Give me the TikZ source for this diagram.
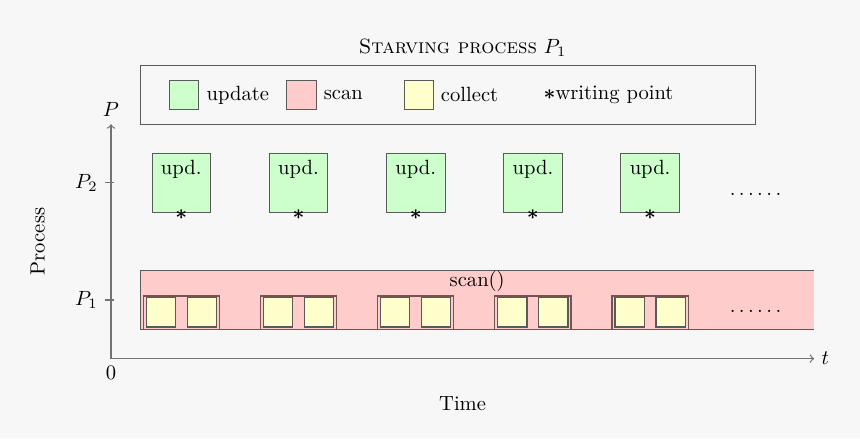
\documentclass[tikz,border=0pt]{standalone}
\usepackage{amsmath}
\usepackage{amssymb}
\usepackage{tikz}
\usetikzlibrary{arrows}
\usetikzlibrary{positioning}
\definecolor{bg}{RGB}{247, 247, 247}
\definecolor{updgreen}{RGB}{204, 255, 204}
\definecolor{scanred}{RGB}{255, 204, 204}
\definecolor{colyellow}{RGB}{255, 255, 204}
\definecolor{edge}{RGB}{90, 90, 90}
\definecolor{grpedge}{RGB}{115, 85, 85}

\begin{document}
\begin{tikzpicture}[
        axis/.style={->, draw=black!55, semithick},
        updbox/.style={draw=edge, fill=updgreen, minimum width=1cm, minimum height=1cm, inner sep=0},
        grpbox/.style={draw=grpedge, fill=scanred, semithick, minimum width=1.3cm, minimum height=0.57cm, inner sep=0},
        colbox/.style={draw=edge, fill=colyellow, semithick, minimum width=0.5cm, minimum height=0.5cm, inner sep=0},
        keybox/.style={draw=edge, minimum width=0.5cm, minimum height=0.5cm, inner sep=0},
        wpoint/.style={inner sep=0, yshift=-0.03cm},
        dots/.style={inner sep=0}
    ]

        \fill[bg] (-1.894, -1.355) rectangle (12.782, 6.12);
        \useasboundingbox (-1.894, -1.355) rectangle (12.782, 6.12);

        % title and legend
        \node (title) at (6, 5.3) {\textsc{Starving process} $P_{1}$};
        \draw[edge] (0.5, 4) rectangle (11, 5);

        \node[keybox, fill=updgreen] (kupd) at (1.25, 4.5) {};
        \node[right=0pt of kupd] (tupd) {update};
        \node[keybox, fill=scanred] (kscan) at (3.25, 4.5) {};
        \node[right=0pt of kscan] (tscan) {scan};
        \node[keybox, fill=colyellow] (kcol) at (5.25, 4.5) {};
        \node[right=0pt of kcol] (tcol) {collect};
        \node[anchor=west] (twrite) at (7.26, 4.5) {$\boldsymbol{\ast}$writing point};

        % axes
        \coordinate (o) at (0, 0);
        \coordinate (ytop) at (0, 4);
        \coordinate (xend) at (12, 0);
        \draw[axis] (o) -- (ytop) node[above, black] (ylab) {$P$};
        \draw[axis] (o) -- (xend) node[right, black] (xlab) {$t$};
        \node[below] (zero) at (o) {$0$};
        \draw[black!55, semithick] (0.05, 3) -- (-0.1, 3) node[left, black] (lp2) {$P_{2}$};
        \draw[black!55, semithick] (0.05, 1) -- (-0.1, 1) node[left, black] (lp1) {$P_{1}$};
        \node[rotate=90] (proc) at (-1.25, 2) {Process};
        \node (time) at (6, -0.76) {Time};

        % P2: updates
        \node[updbox] (u1) at (1.2, 3) {};
        \node[updbox] (u2) at (3.2, 3) {};
        \node[updbox] (u3) at (5.2, 3) {};
        \node[updbox] (u4) at (7.2, 3) {};
        \node[updbox] (u5) at (9.2, 3) {};

        \node[below] (n1) at (u1.north) {upd.};
        \node[below] (n2) at (u2.north) {upd.};
        \node[below] (n3) at (u3.north) {upd.};
        \node[below] (n4) at (u4.north) {upd.};
        \node[below] (n5) at (u5.north) {upd.};

        \node[wpoint] (w1) at (u1.south) {$\boldsymbol{\ast}$};
        \node[wpoint] (w2) at (u2.south) {$\boldsymbol{\ast}$};
        \node[wpoint] (w3) at (u3.south) {$\boldsymbol{\ast}$};
        \node[wpoint] (w4) at (u4.south) {$\boldsymbol{\ast}$};
        \node[wpoint] (w5) at (u5.south) {$\boldsymbol{\ast}$};

        \node[dots] (d2) at (11, 2.81) {$\ldots\ldots$};

        % P1: one long scan
        \fill[scanred] (0.5, 0.5) rectangle (12, 1.5);
        \draw[edge] (12, 1.5) -- (0.5, 1.5) -- (0.5, 0.5) -- (12, 0.5);
        \node (scanlab) at (6.25, 1.32) {scan()};

        \node[grpbox] (g1) at (1.2, 0.785) {};
        \node[grpbox] (g2) at (3.2, 0.785) {};
        \node[grpbox] (g3) at (5.2, 0.785) {};
        \node[grpbox] (g4) at (7.2, 0.785) {};
        \node[grpbox] (g5) at (9.2, 0.785) {};

        \node[colbox] (c1a) at (0.85, 0.79) {};
        \node[colbox] (c1b) at (1.55, 0.79) {};
        \node[colbox] (c2a) at (2.85, 0.79) {};
        \node[colbox] (c2b) at (3.55, 0.79) {};
        \node[colbox] (c3a) at (4.85, 0.79) {};
        \node[colbox] (c3b) at (5.55, 0.79) {};
        \node[colbox] (c4a) at (6.85, 0.79) {};
        \node[colbox] (c4b) at (7.55, 0.79) {};
        \node[colbox] (c5a) at (8.85, 0.79) {};
        \node[colbox] (c5b) at (9.55, 0.79) {};

        \node[dots] (d1) at (11, 0.8) {$\ldots\ldots$};

    \end{tikzpicture}
\end{document}
